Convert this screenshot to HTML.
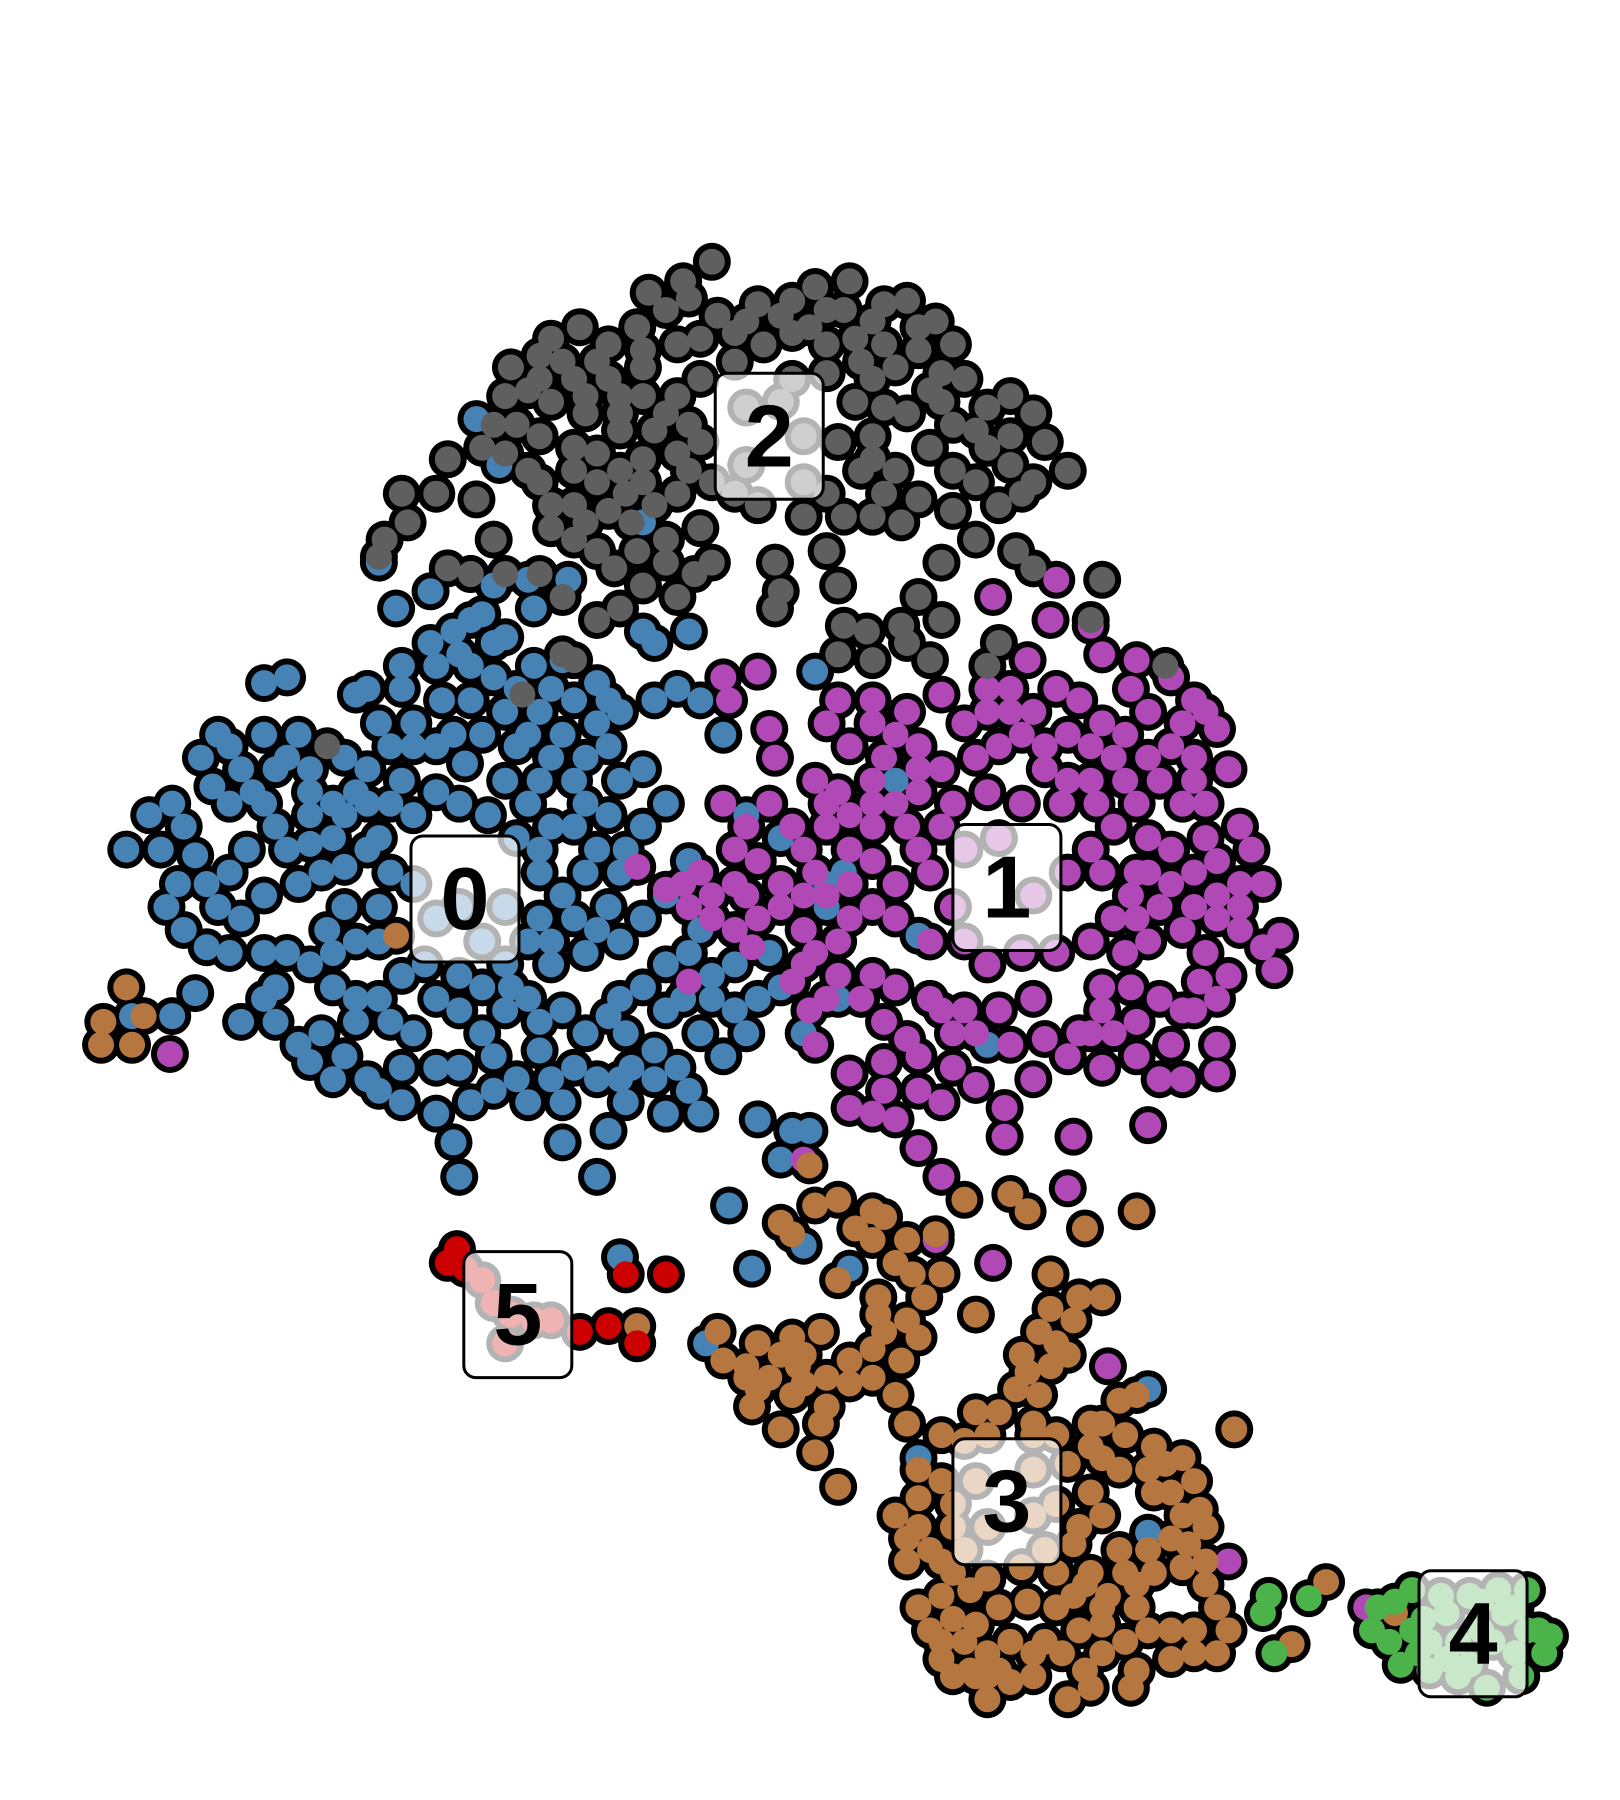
<!DOCTYPE html>
<html><head><meta charset="utf-8"><style>
html,body{margin:0;padding:0;background:#fff}
svg{display:block}
</style></head><body>
<svg id="chart" width="1620" height="1800" viewBox="0 0 1620 1800" xmlns="http://www.w3.org/2000/svg">
<g id="outlines"></g>
<g id="fills"></g>
<g id="labels"></g>
</svg>
<script>
const clusterNames = ["0","1","2","3","4","5"];
const clusterColors = ["#4682b4","#b048b5","#5f5f5f","#b5763f","#4cb24a","#cc0000"];
const cluster2 = [[620,228],[595,245],[565,255],[580,270],[555,285],[530,300],[505,285],[480,295],[470,310],[445,320],[500,330],[530,330],[560,320],[590,300],[610,295],[640,290],[660,265],[690,262],[710,250],[740,245],[720,270],[760,280],[790,262],[815,280],[830,300],[820,325],[840,330],[800,305],[770,300],[745,295],[720,300],[690,290],[665,300],[640,315],[610,330],[590,345],[560,345],[540,360],[510,360],[480,350],[460,340],[450,370],[430,370],[470,380],[500,390],[540,375],[570,375],[610,385],[600,410],[620,420],[650,405],[700,420],[730,385],[760,380],[790,360],[810,390],[830,370],[860,355],[880,345],[900,360],[910,385],[930,410],[900,420],[880,405],[860,390],[850,420],[870,440],[830,445],[800,435],[770,430],[750,410],[735,450],[700,450],[660,440],[640,430],[610,460],[620,490],[590,520],[560,510],[535,495],[520,480],[500,470],[480,460],[500,440],[520,420],[545,430],[570,440],[580,470],[555,480],[540,530],[520,540],[490,520],[470,500],[440,500],[410,500],[390,495],[390,400],[415,435],[380,430],[350,430],[355,455],[335,470],[330,485],[430,470],[720,480],[675,490],[680,515],[675,530],[730,510],[820,490],[850,470],[885,480],[900,495],[960,505],[800,520],[820,540],[785,545],[755,550],[735,545],[730,570],[760,575],[790,560],[810,575],[860,580],[870,560],[950,540],[1015,580],[490,570],[500,575],[455,605],[285,650],[785,455],[745,350],[680,350],[700,380],[650,355],[690,330],[760,330],[560,400],[500,410],
[600,260],[625,275],[650,280],[680,275],[705,285],[735,270],[770,265],[800,285],[780,320],[750,315],[720,325],[560,305],[520,315],[490,315],[470,330],[440,345],[510,345],[580,360],[600,370],[590,395],[560,420],[530,445],[510,455],[480,440],[460,410],[440,395],[470,420],[520,395],[540,410],[590,430],[580,490],[605,500],[550,455],[760,400],[780,410],[830,410],[820,350],[850,375],[880,380],[890,430],[760,450],[720,430],[770,355],[810,340],[540,345],[420,390]];
const cluster0 = [[415,365],[435,405],[330,490],[345,530],[375,515],[410,540],[430,510],[460,505],[495,505],[420,535],[440,555],[465,530],[430,560],[395,550],[375,560],[380,580],[430,590],[465,580],[490,575],[520,595],[540,620],[500,610],[470,620],[440,620],[410,610],[385,610],[350,600],[320,600],[310,605],[230,595],[190,640],[175,660],[185,685],[150,700],[130,710],[110,740],[140,740],[160,720],[200,700],[220,690],[230,640],[260,640],[250,660],[270,670],[300,660],[330,630],[360,630],[380,650],[405,665],[350,680],[340,700],[310,690],[290,700],[270,710],[240,720],[215,740],[200,760],[180,770],[155,770],[145,790],[160,810],[180,825],[210,800],[230,780],[260,770],[280,760],[300,755],[320,740],[340,760],[330,790],[310,820],[290,830],[270,840],[250,830],[240,860],[230,870],[210,890],[170,865],[150,885],[115,885],[260,910],[280,900],[300,920],[320,940],[350,930],[330,950],[360,900],[330,870],[310,870],[290,860],[350,850],[380,870],[400,880],[420,900],[440,880],[470,890],[490,880],[510,900],[530,885],[540,870],[560,860],[580,840],[600,830],[620,850],[640,840],[660,870],[680,860],[650,900],[610,900],[595,870],[570,915],[570,940],[600,950],[610,970],[580,970],[545,960],[520,940],[500,930],[480,940],[460,960],[430,950],[410,960],[380,970],[395,995],[400,1025],[490,995],[520,1025],[530,985],[490,960],[430,920],[450,730],[470,760],[490,780],[510,760],[520,740],[510,700],[500,680],[470,680],[450,650],[460,640],[490,640],[510,660],[530,650],[560,720],[580,700],[600,750],[580,780],[560,800],[540,820],[520,810],[510,830],[480,840],[440,840],[420,820],[470,800],[460,700],[560,670],[570,610],[590,600],[610,610],[630,640],[600,790],[610,810],[560,550],[600,550],[710,585],[660,975],[690,985],[705,985],[680,1010],[635,1050],[540,1095],[655,1105],[740,1105],[700,1085],[735,760],[780,680],[650,710],[680,730],[860,910],[800,815],[720,790],[730,870],[700,900],[1000,1335],[1000,1210],[800,1270],[720,770],[670,830],[615,1170],[620,780],[425,710],[560,455],[570,560],[400,790],[380,800],[360,770],[440,790],[330,730],[300,790],[285,810],[380,930],[460,870],[400,700],[360,710],[250,590],
[200,650],[210,670],[240,670],[270,690],[230,700],[250,740],[270,735],[290,730],[300,710],[320,700],[320,670],[340,650],[360,650],[380,690],[395,640],[420,640],[480,660],[440,680],[480,720],[470,740],[500,720],[540,760],[530,790],[500,800],[480,820],[460,820],[445,860],[420,860],[400,850],[370,840],[330,820],[340,890],[310,890],[290,940],[270,925],[240,890],[230,830],[200,830],[190,790],[170,745],[545,900],[550,930],[590,930],[630,920],[640,880],[620,870],[580,880],[470,915],[450,940],[400,930],[350,960],[540,940],[400,570],[410,580],[350,580],[410,500],[450,600],[480,600],[530,610],[520,630],[540,680],[530,710],[545,740]];
const cluster1 = [[865,520],[920,505],[915,540],[950,545],[960,570],[990,575],[985,600],[1020,590],[1040,610],[1030,630],[1060,635],[1070,670],[1050,700],[1080,720],[1090,740],[1100,770],[1080,790],[1060,780],[1040,760],[1020,740],[1000,730],[990,700],[1010,680],[1000,660],[970,660],[960,630],[940,610],[920,600],[895,575],[880,600],[860,620],[840,630],[820,605],[790,620],[760,610],[730,610],[720,630],[740,650],[770,660],[800,650],[820,670],[850,660],[870,650],[890,640],[910,650],[930,680],[955,700],[970,720],[950,740],[930,760],[960,760],[985,780],[1010,790],[1030,810],[1050,830],[1070,850],[1100,825],[1115,815],[1110,845],[1045,855],[1030,880],[1010,870],[985,860],[960,880],[940,900],[910,905],[930,920],[960,930],[990,920],[1010,940],[1030,940],[1060,935],[1060,910],[1020,910],[1000,980],[935,990],[875,965],[875,990],[930,1035],[820,1025],[800,1000],[740,965],[760,970],[780,975],[740,935],[770,925],[800,920],[830,930],[850,945],[820,960],[790,905],[770,890],[750,870],[730,850],[710,830],[700,810],[680,790],[660,800],[640,810],[620,800],[600,790],[580,775],[595,770],[555,755],[610,760],[640,770],[660,750],[690,720],[670,700],[630,700],[640,740],[680,770],[710,760],[740,740],[760,720],[780,700],[800,690],[830,700],[860,690],[890,700],[870,730],[840,740],[810,760],[780,770],[760,790],[780,800],[810,820],[840,820],[860,840],[890,830],[920,830],[950,820],[970,800],[960,860],[900,870],[870,880],[840,880],[810,870],[780,860],[760,850],[730,820],[720,700],[730,690],[710,680],[760,680],[630,590],[660,585],[635,610],[670,635],[675,660],[600,855],[690,855],[705,880],[710,910],[655,825],[700,1010],[965,1190],[1070,1360],[1190,1400],[815,1080],[865,1100],[925,700],[990,760],[1040,680],[900,780],[830,790],[800,740],[148,918],
[860,600],[880,620],[900,620],[930,640],[950,650],[980,640],[1000,620],[1020,650],[1040,660],[1030,700],[1050,730],[1060,750],[1040,790],[1020,770],[1000,760],[1000,820],[980,830],[990,890],[950,900],[970,900],[990,800],[1040,880],[1060,870],[1080,770],[760,630],[780,640],[800,670],[760,700],[740,710],[720,720],[700,740],[720,780],[740,800],[740,770],[820,720],[820,880],[850,900],[830,900],[880,910],[900,940],[800,950],[770,950],[720,870],[700,840],[650,780],[620,780],[650,720],[700,780],[760,750],[790,720],[1060,800],[1080,810],[1050,620],[980,680],[950,680],[910,670]];
const cluster3 = [[110,860],[90,890],[88,910],[115,910],[125,885],[345,815],[705,1015],[730,1045],[760,1055],[770,1060],[680,1065],[690,1075],[790,1080],[815,1075],[840,1045],[880,1040],[895,1055],[945,1070],[990,1055],[795,1110],[820,1110],[765,1130],[730,1115],[765,1145],[790,1150],[800,1165],[850,1145],[915,1110],[960,1130],[915,1140],[905,1160],[935,1150],[715,1160],[690,1165],[660,1170],[625,1160],[630,1185],[650,1190],[670,1200],[695,1190],[720,1200],[740,1205],[760,1200],[785,1185],[780,1215],[720,1225],[690,1215],[660,1210],[655,1225],[680,1245],[715,1240],[710,1265],[730,1295],[790,1240],[820,1250],[840,1255],[870,1230],[885,1210],[905,1215],[915,1190],[930,1180],[950,1260],[975,1220],[990,1215],[1005,1260],[1030,1270],[1040,1290],[1045,1315],[1050,1330],[1035,1345],[1005,1300],[975,1280],[960,1270],[930,1275],[920,1310],[935,1345],[950,1370],[965,1390],[990,1380],[1005,1370],[1030,1365],[1050,1380],[1060,1400],[1070,1420],[1060,1440],[1040,1440],[1020,1445],[990,1455],[985,1470],[945,1455],[930,1480],[900,1460],[880,1465],[860,1480],[845,1455],[820,1445],[810,1420],[800,1400],[820,1390],[845,1385],[870,1400],[895,1395],[920,1400],[940,1420],[960,1415],[925,1440],[880,1430],[850,1415],[830,1370],[810,1350],[790,1340],[780,1320],[800,1305],[860,1375],[890,1365],[910,1350],[1075,1245],[1155,1378],[1125,1432],[1215,1405],[555,1155],[1000,1280],[975,1350],[870,1455],[935,1390],[850,1290],[900,1280],[860,1330],[900,1320],
[680,1180],[700,1180],[650,1200],[700,1205],[740,1185],[760,1175],[770,1160],[805,1130],[780,1100],[760,1080],[745,1070],[710,1050],[920,1170],[890,1180],[895,1195],[940,1130],[900,1240],[950,1240],[960,1240],[980,1250],[1015,1275],[1020,1300],[1030,1320],[1020,1340],[1000,1350],[980,1370],[960,1400],[945,1380],[990,1400],[1000,1420],[980,1430],[960,1440],[950,1470],[910,1430],[900,1440],[860,1440],[840,1430],[830,1410],[820,1430],[830,1460],[860,1460],[1040,1420],[1020,1420],[1050,1360],[840,1350],[830,1330],[800,1330],[800,1280],[820,1290],[830,1310],[820,1360],[790,1360],[850,1460],[920,1370],[940,1330],[960,1320],[950,1300],[850,1230],[860,1250],[900,1250],[920,1250]];
const cluster4 = [[1105,1390],[1100,1405],[1140,1392],[1110,1440],[1195,1420],[1215,1395],[1230,1385],[1220,1450],[1245,1430],[1260,1405],[1280,1390],[1305,1385],[1330,1385],[1340,1420],[1345,1440],[1320,1440],[1295,1470],[1270,1460],[1245,1455],[1290,1420],[1310,1405],[1240,1410],[1270,1430],
[1200,1400],[1210,1430],[1230,1420],[1255,1390],[1290,1395],[1320,1400],[1330,1420],[1300,1430],[1280,1450],[1260,1445],[1235,1440],[1325,1460],[1350,1425]];
const cluster5 = [[398,1088],[390,1100],[405,1105],[420,1115],[430,1135],[445,1145],[465,1150],[480,1150],[505,1160],[530,1155],[555,1170],[545,1110],[580,1110],[440,1170]];
const clusterPoints = [cluster0,cluster1,cluster2,cluster3,cluster4,cluster5];
const labelCenters = [[405,783],[877,773],[670,380],[877,1308],[1283,1423],[451,1145]];

const S = 1620/1411;
function xScale(v){return v*S;}
function yScale(v){return v*S;}
const NS="http://www.w3.org/2000/svg";
const outlines=document.getElementById('outlines');
const fills=document.getElementById('fills');
const labels=document.getElementById('labels');
clusterPoints.forEach((pts,ci)=>{
  pts.forEach(p=>{
    const o=document.createElementNS(NS,'circle');
    
    
    o.setAttribute('cx',xScale(p[0]));o.setAttribute('cy',yScale(p[1]));o.setAttribute('r',19);o.setAttribute('fill','#000');
    outlines.appendChild(o);
  });
});
clusterPoints.forEach((pts,ci)=>{
  pts.forEach(p=>{
    const c=document.createElementNS(NS,'circle');
    
    
    c.setAttribute('cx',xScale(p[0]));c.setAttribute('cy',yScale(p[1]));c.setAttribute('r',13);c.setAttribute('fill',clusterColors[ci]);
    fills.appendChild(c);
  });
});
labelCenters.forEach((p,i)=>{
  const g=document.createElementNS(NS,'g');
  
  
  const r=document.createElementNS(NS,'rect');
  
  
  r.setAttribute('x',xScale(p[0])-54);r.setAttribute('y',yScale(p[1])-63);
  r.setAttribute('width',108);r.setAttribute('height',126);r.setAttribute('rx',12);
  r.setAttribute('fill','rgba(255,255,255,0.7)');r.setAttribute('stroke','#000');r.setAttribute('stroke-width',3);
  g.appendChild(r);
  const t=document.createElementNS(NS,'text');
  
  
  t.setAttribute('x',xScale(p[0]));t.setAttribute('y',yScale(p[1])+30);
  t.setAttribute('text-anchor','middle');t.setAttribute('font-family','Liberation Sans, sans-serif');
  t.setAttribute('font-weight','bold');t.setAttribute('font-size',88);t.setAttribute('fill','#000');
  t.textContent=clusterNames[i];
  g.appendChild(t);
  labels.appendChild(g);
});
</script>
</body></html>
